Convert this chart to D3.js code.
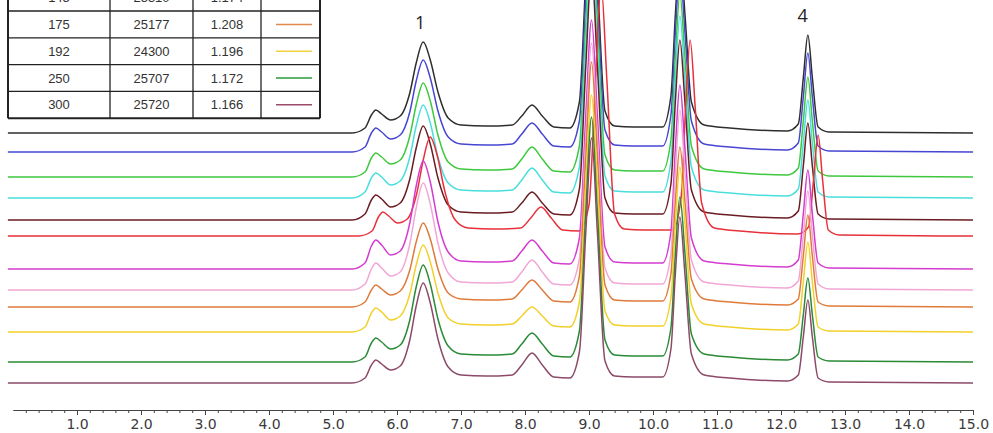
<!DOCTYPE html>
<html>
<head>
<meta charset="utf-8">
<script src="https://cdn.jsdelivr.net/npm/d3@7"></script>
<style>
	body { margin: 0; background: #fff; }
	svg { display: block; }
</style>
</head>
<body>
<svg id="svg" width="993" height="433"></svg>
<script>
// retention time grid (min), shared by the traces; the red run elutes a bit later
const times = [-0.08, 5.30, 5.50, 5.60, 5.67, 5.76, 5.90, 6.05, 6.20, 6.30, 6.41, 6.52, 6.64, 6.80, 7.00, 7.40, 7.80, 7.95, 8.11, 8.27, 8.45, 8.70, 8.85, 8.95, 9.04, 9.13, 9.25, 9.40, 9.70, 10.15, 10.28, 10.35, 10.42, 10.50, 10.60, 10.80, 11.20, 12.10, 12.27, 12.35, 12.42, 12.49, 12.58, 12.75, 15.00];
const timesLate = [-0.08, 5.40, 5.61, 5.71, 5.78, 5.87, 6.01, 6.16, 6.31, 6.41, 6.52, 6.63, 6.75, 6.91, 7.11, 7.52, 7.93, 8.09, 8.25, 8.41, 8.59, 8.84, 9.00, 9.10, 9.19, 9.28, 9.40, 9.55, 9.86, 10.31, 10.44, 10.51, 10.58, 10.66, 10.76, 10.96, 11.36, 12.26, 12.43, 12.51, 12.58, 12.65, 12.74, 12.91, 15.00];

// detector signal (mAU) of every run, top trace first
const runBlack   = [0,0,5,18,23,19,13,17,40,70,91,73,41,15,8,7,8,17,28,17,6,5,31,154,250,155,22,7,6,6,37,119,181,118,31,8,5,2,9,56,98,55,6,1,0];
const runBlue    = [0,0,5,19,24,20,13,17,40,71,92,74,41,15,8,7,8,18,29,18,6,5,31,154,250,155,22,7,6,6,37,120,182,119,31,8,5,2,9,56,99,55,6,1,0];
const runGreen   = [0,0,5,19,24,20,13,17,41,72,94,76,42,15,8,7,8,18,30,18,6,5,31,154,250,155,22,7,6,6,37,120,183,119,31,8,5,2,9,57,100,56,6,1,0];
const runCyan    = [0,0,6,20,25,21,13,17,41,72,93,75,41,15,8,7,8,18,30,18,6,5,31,154,250,155,22,7,6,6,37,120,182,119,31,8,5,2,9,56,98,55,6,1,0];
const runMaroon  = [0,0,6,20,25,21,13,17,41,72,94,76,42,15,8,7,8,17,28,17,6,5,31,154,250,155,22,7,6,6,36,119,180,117,30,8,5,2,9,55,97,54,6,1,0];
const runRed     = [0,0,5,19,24,20,13,17,43,76,99,80,44,16,8,7,8,18,29,18,6,5,31,154,250,155,22,7,6,6,39,129,196,128,33,8,5,2,9,57,101,56,6,1,0];
const runMagenta = [0,0,6,23,29,24,14,18,46,83,108,87,47,17,8,7,8,18,29,18,6,5,31,154,249,155,22,7,6,6,37,121,184,120,31,8,5,2,9,56,99,55,6,1,0];
const runPink    = [0,0,6,21,27,22,14,18,46,82,107,86,47,17,8,7,8,18,30,18,6,5,31,153,247,154,22,7,6,6,36,119,180,117,30,8,5,2,9,56,99,55,6,1,0];
const runOrange  = [0,0,5,17,22,18,12,16,37,65,84,68,38,14,8,7,8,17,27,17,6,5,31,151,245,152,22,7,6,6,33,106,160,105,28,8,5,2,8,52,92,51,5,1,0];
const runYellow  = [0,0,5,19,24,20,12,16,38,67,87,70,39,14,8,7,8,16,25,16,6,5,30,147,237,148,21,7,6,6,34,109,165,108,28,8,5,2,8,51,90,50,5,1,0];
const runDkGreen = [0,0,5,19,24,20,13,17,42,75,97,78,43,16,8,7,8,18,29,18,6,5,31,151,245,152,22,7,6,6,34,109,165,108,28,8,5,2,8,48,84,47,5,1,0];
const runMauve   = [0,0,5,18,23,19,13,17,43,77,100,80,44,16,8,7,8,18,30,18,6,5,31,151,245,152,22,7,6,6,34,110,166,108,29,8,5,2,8,47,83,46,5,1,0];

const runs = [runBlack, runBlue, runGreen, runCyan, runMaroon, runRed, runMagenta, runPink, runOrange, runYellow, runDkGreen, runMauve];
const runTimes = [times, times, times, times, times, timesLate, times, times, times, times, times, times];
const runOffsets = [250, 231, 206, 185, 163, 147, 114, 93, 76, 51, 21, 0]; // stacking offset, mAU
const runColors = ['#2e2e2e', '#4646d2', '#3ec83e', '#48dede', '#6a1c22', '#e8303a', '#d43cd0', '#f2a6d6', '#e07a3a', '#f2d02a', '#2a8a36', '#8c4a68'];

const peakNames = ['1', '4'];
const peakTimes = [6.36, 12.34];

const xTicks = [1, 2, 3, 4, 5, 6, 7, 8, 9, 10, 11, 12, 13, 14, 15];

// legend table (only the lower rows fit in the picture)
const tableMw = ['145', '175', '192', '250', '300'];
const tableArea = ['25310', '25177', '24300', '25707', '25720'];
const tableRatio = ['1.174', '1.208', '1.196', '1.172', '1.166'];
const tableColors = ['#f2a6d6', '#e08a50', '#f0d040', '#2a9a3a', '#9a4a6a'];

const svg = d3.select('svg');

const x = d3.scaleLinear().domain([0, 15]).range([13, 973]);
const y = d3.scaleLinear().domain([0, 383]).range([383, 0]);

const line = d3.line()
	.x((d) => x(d[0]))
	.y((d) => y(d[1]))
	.curve(d3.curveMonotoneX);

// TRACES
runs.forEach((run, i) => {
	const pts = run.map((v, j) => [runTimes[i][j], v + runOffsets[i]]);
	svg.append('path')
		.attr('d', line(pts))
		.attr('fill', 'none')
		.attr('stroke', runColors[i])
		.attr('stroke-width', 1.5)
		.attr('stroke-linejoin', 'round');
});

// peak numbers above the top trace
peakNames.forEach((p, i) => {
	const idx = d3.bisectLeft(times, peakTimes[i] + 0.05);
	svg.append('text')
		.attr('x', x(peakTimes[i]))
		.attr('y', y(runBlack[idx] + runOffsets[0]) - 13)
		.attr('text-anchor', 'middle')
		.attr('font-family', 'Open Sans, sans-serif')
		.attr('font-size', 18)
		.attr('fill', '#222')
		.text(p);
});

// AXIS
const axisY = 410;
svg.append('g')
	.attr('transform', `translate(0,${axisY})`)
	.call(d3.axisBottom(x).tickValues(d3.range(0.2, 15.01, 0.2)).tickSize(3).tickSizeOuter(0).tickFormat(''))
	.call((g) => g.selectAll('line,path').attr('stroke', '#444'));

svg.append('g')
	.attr('transform', `translate(0,${axisY})`)
	.call(d3.axisBottom(x).tickValues(xTicks).tickSize(5).tickSizeOuter(0).tickPadding(4).tickFormat(d3.format('.1f')))
	.call((g) => g.select('.domain').attr('stroke', '#444').attr('stroke-width', 1.2))
	.call((g) => g.selectAll('line').attr('stroke', '#444'))
	.call((g) => g.selectAll('text')
		.attr('font-family', 'DejaVu Sans, Verdana, sans-serif')
		.attr('font-size', 14)
		.attr('fill', '#3a3a3a'));

// TABLE
const colEdges = [8, 110, 193, 261, 320];
const rowH = 26.8;
const rowTop = 11 - rowH;
const table = svg.append('g');

tableMw.forEach((mw, i) => {
	const cy = rowTop + rowH * i + rowH / 2;
	const cells = [mw, tableArea[i], tableRatio[i]];
	cells.forEach((c, k) => {
		table.append('text')
			.attr('x', (colEdges[k] + colEdges[k + 1]) / 2)
			.attr('y', cy + 4.5)
			.attr('text-anchor', 'middle')
			.attr('font-family', 'Liberation Sans Narrow, Liberation Sans, Arial, sans-serif')
			.attr('font-size', 13)
			.attr('fill', '#333')
			.text(c);
	});
	table.append('line')
		.attr('x1', 276).attr('x2', 312)
		.attr('y1', cy).attr('y2', cy)
		.attr('stroke', tableColors[i])
		.attr('stroke-width', 1.5);
	table.append('line')
		.attr('x1', colEdges[0]).attr('x2', colEdges[4])
		.attr('y1', rowTop + rowH * (i + 1)).attr('y2', rowTop + rowH * (i + 1))
		.attr('stroke', '#222')
		.attr('stroke-width', i === tableMw.length - 1 ? 2 : 1.3);
});

colEdges.forEach((cx, k) => {
	table.append('line')
		.attr('x1', cx).attr('x2', cx)
		.attr('y1', 0).attr('y2', rowTop + rowH * tableMw.length)
		.attr('stroke', '#222')
		.attr('stroke-width', k === 0 || k === colEdges.length - 1 ? 2 : 1.3);
});
</script>
</body>
</html>
